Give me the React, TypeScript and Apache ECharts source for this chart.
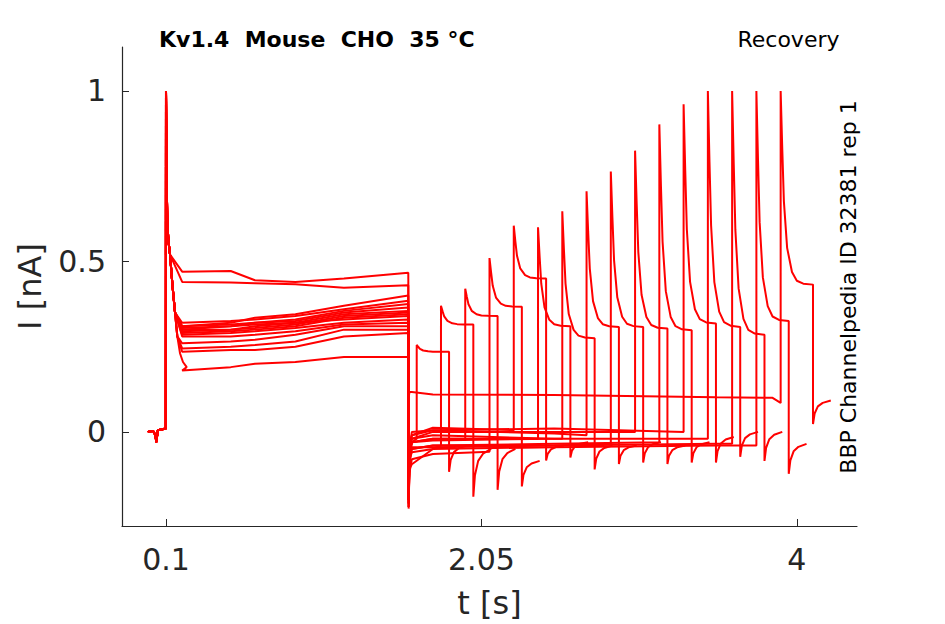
import { useEffect, useRef } from "react";
import * as echarts from "echarts";

const xTicks = [0.1, 2.05, 4];
const yTicks = [0, 0.5, 1];

// holding baseline before the first step
const preTimes = [-0.012, 0.02, 0.035, 0.04, 0.05, 0.099];
const preLevels = [0.0, 0.003, -0.01, -0.03, 0.005, 0.01];

// shared fast decay after the first step (s after 0.1, nA)
const firstDecayTimes = [0, 0.003, 0.008, 0.015, 0.025, 0.04, 0.056, 0.07, 0.087, 0.105, 0.128];
const firstDecayLevels = [1, 0.78, 0.62, 0.56, 0.52, 0.43, 0.35, 0.28, 0.23, 0.205, 0.19];

// first step plateau, one row per trace (ordered like the test pulses)
const plateauTimes = [0.2, 0.5, 0.65, 0.9, 1.2, 1.598];
const plateauLevels = [
  [0.18, 0.19, 0.2, 0.205, 0.22, 0.22],
  [0.31, 0.32, 0.335, 0.345, 0.37, 0.4],
  [0.32, 0.325, 0.33, 0.34, 0.36, 0.385],
  [0.3, 0.31, 0.32, 0.33, 0.355, 0.375],
  [0.44, 0.438, 0.436, 0.433, 0.423, 0.43],
  [0.31, 0.315, 0.32, 0.325, 0.35, 0.365],
  [0.295, 0.3, 0.31, 0.32, 0.345, 0.355],
  [0.3, 0.3, 0.305, 0.315, 0.34, 0.35],
  [0.29, 0.295, 0.3, 0.31, 0.335, 0.345],
  [0.305, 0.31, 0.315, 0.32, 0.33, 0.34],
  [0.285, 0.29, 0.295, 0.305, 0.32, 0.33],
  [0.28, 0.28, 0.285, 0.295, 0.315, 0.32],
  [0.26, 0.265, 0.27, 0.285, 0.31, 0.31],
  [0.245, 0.25, 0.255, 0.265, 0.3, 0.3],
  [0.235, 0.24, 0.24, 0.25, 0.28, 0.29],
  [0.47, 0.472, 0.445, 0.44, 0.45, 0.467],
];

// interval between the steps
const gapTimes = [1.6, 1.605, 1.62, 1.75, 2.5, 3.5, 3.85];
const gapLevels = [
  [-0.22, -0.1, -0.03, -0.03, -0.03, -0.03, -0.03],
  [-0.2, -0.108, -0.095, -0.05, -0.04, -0.04, -0.04],
  [-0.2, -0.06, -0.03, -0.02, -0.02, -0.02, -0.02],
  [-0.21, -0.12, -0.08, -0.065, -0.06, -0.06, -0.06],
  [-0.18, -0.05, -0.01, 0.012, 0.01, 0.01, 0.01],
  [-0.2, -0.06, -0.03, -0.02, -0.02, -0.02, -0.02],
  [-0.22, -0.08, -0.02, -0.01, -0.02, -0.02, -0.02],
  [-0.19, -0.05, -0.0, 0.005, -0.005, -0.005, -0.005],
  [-0.2, -0.07, -0.045, -0.045, -0.04, -0.04, -0.04],
  [-0.17, -0.04, -0.02, 0.0, 0.0, 0.0, 0.0],
  [-0.225, -0.09, -0.05, -0.04, -0.035, -0.03, -0.03],
  [-0.19, -0.05, -0.01, 0.005, 0.01, 0.005, 0.005],
  [-0.2, -0.06, -0.03, -0.025, -0.02, -0.02, -0.02],
  [-0.21, -0.07, -0.05, -0.04, -0.04, -0.035, -0.035],
  [-0.2, -0.08, -0.06, -0.05, -0.045, -0.04, -0.04],
  [0.1, 0.117, 0.117, 0.11, 0.108, 0.102, 0.1],
];
const gapEnds = [-0.02, -0.04, -0.02, -0.058, 0.005, -0.02, -0.02, -0.01, -0.035, 0.0, -0.03, 0.0, -0.02, -0.035, -0.04, 0.085];

// test pulses
const testOnsets = [1.65, 1.8, 1.95, 2.1, 2.25, 2.4, 2.55, 2.7, 2.85, 3.0, 3.15, 3.3, 3.45, 3.6, 3.75, 3.9];
const testPeaks = [0.255, 0.37, 0.42, 0.51, 0.605, 0.6, 0.647, 0.706, 0.764, 0.825, 0.902, 0.961, 1.0, 1.0, 1.0, 1.0];
const testPlateaus = [0.235, 0.315, 0.34, 0.367, 0.45, 0.31, 0.275, 0.308, 0.308, 0.303, 0.298, 0.318, 0.308, 0.285, 0.325, 0.432];
const testLength = 0.2;
const testDecayTimes = [0, 0.01, 0.02, 0.04, 0.07, 0.1, 0.14, 0.2];
const testDecayShares = [1, 0.7, 0.43, 0.19, 0.065, 0.02, 0.005, 0];

// tail after the test pulse
const tailMins = [-0.117, -0.19, -0.17, -0.16, -0.084, -0.075, -0.11, -0.094, -0.09, -0.094, -0.09, -0.09, -0.073, -0.085, -0.123, 0.023];
const tailLevels = [-0.04, -0.05, -0.05, -0.085, -0.04, -0.03, -0.04, -0.04, -0.03, -0.04, -0.03, -0.015, 0.0, 0.0, -0.035, 0.092];
const tailTimes = [0, 0.01, 0.03, 0.06, 0.11];
const tailShares = [0, 0.45, 0.75, 0.9, 1];

function buildTrace(i: number): [number, number][] {
  const pts: [number, number][] = [];
  preTimes.forEach((t, k) => pts.push([t, preLevels[k]]));
  pts.push([0.1, preLevels[preLevels.length - 1]]);
  const p0 = plateauLevels[i][0];
  for (let k = 0; k < firstDecayTimes.length; k++) {
    if (firstDecayLevels[k] <= p0 + 0.005) break;
    pts.push([0.1 + firstDecayTimes[k], firstDecayLevels[k]]);
  }
  plateauTimes.forEach((t, k) => pts.push([t, plateauLevels[i][k]]));
  const onset = testOnsets[i];
  gapTimes.forEach((t, k) => {
    if (t < onset - 0.01) pts.push([t, gapLevels[i][k]]);
  });
  pts.push([onset, gapEnds[i]]);
  const peak = testPeaks[i];
  const plat = testPlateaus[i];
  testDecayTimes.forEach((dt, k) => pts.push([onset + dt, plat + (peak - plat) * testDecayShares[k]]));
  const end = onset + testLength;
  const lo = tailMins[i];
  const hi = tailLevels[i];
  tailTimes.forEach((dt, k) => pts.push([end + dt, lo + (hi - lo) * tailShares[k]]));
  return pts;
}

const font = "DejaVu Sans";
const ink = "#262626";

export default function App() {
  const ref = useRef<HTMLDivElement>(null);

  useEffect(() => {
    document.body.style.margin = "0";
    if (!ref.current) return;
    const chart = echarts.init(ref.current, null, { renderer: "svg" });

    const series = testOnsets.map((_, i) => ({
      type: "line",
      data: buildTrace(i),
      showSymbol: false,
      symbol: "none",
      lineStyle: { color: "#ff0000", width: 2 },
      emphasis: { disabled: true },
    }));

    chart.setOption({
      animation: false,
      grid: { left: 122, right: 88, top: 47, bottom: 98, containLabel: false, outerBoundsMode: "none" },
      xAxis: {
        type: "value",
        min: -0.172,
        max: 4.372,
        name: "t [s]",
        nameLocation: "middle",
        nameGap: 61,
        nameTextStyle: { fontFamily: font, fontSize: 32, color: ink },
        axisLine: { show: true, onZero: false, lineStyle: { color: ink, width: 1.2 } },
        axisTick: { show: true, inside: true, length: 7, customValues: xTicks, lineStyle: { color: ink } },
        axisLabel: { customValues: xTicks, fontFamily: font, fontSize: 30, color: ink, margin: 18 },
        splitLine: { show: false },
      },
      yAxis: {
        type: "value",
        min: -0.276,
        max: 1.129,
        name: "I [nA]",
        nameLocation: "middle",
        nameGap: 76,
        nameRotate: 90,
        nameTextStyle: { fontFamily: font, fontSize: 32, color: ink },
        axisLine: { show: true, onZero: false, lineStyle: { color: ink, width: 1.2 } },
        axisTick: { show: true, inside: true, length: 7, customValues: yTicks, lineStyle: { color: ink } },
        axisLabel: { customValues: yTicks, fontFamily: font, fontSize: 30, color: ink, margin: 16 },
        splitLine: { show: false },
      },
      graphic: [
        {
          type: "text",
          x: 159,
          y: 39.5,
          style: {
            text: "Kv1.4  Mouse  CHO  35 °C",
            font: `bold 22px "${font}"`,
            fill: "#000",
            align: "left",
            verticalAlign: "middle",
          },
        },
        {
          type: "text",
          x: 839.5,
          y: 39.5,
          style: {
            text: "Recovery",
            font: `22px "${font}"`,
            fill: "#000",
            align: "right",
            verticalAlign: "middle",
          },
        },
        {
          type: "text",
          x: 848,
          y: 287,
          rotation: Math.PI / 2,
          style: {
            text: "BBP Channelpedia ID 32381 rep 1",
            font: `22px "${font}"`,
            fill: "#000",
            align: "center",
            verticalAlign: "middle",
          },
        },
      ],
      series,
    });

    return () => chart.dispose();
  }, []);

  return <div ref={ref} style={{ width: "945px", height: "624px" }} />;
}
